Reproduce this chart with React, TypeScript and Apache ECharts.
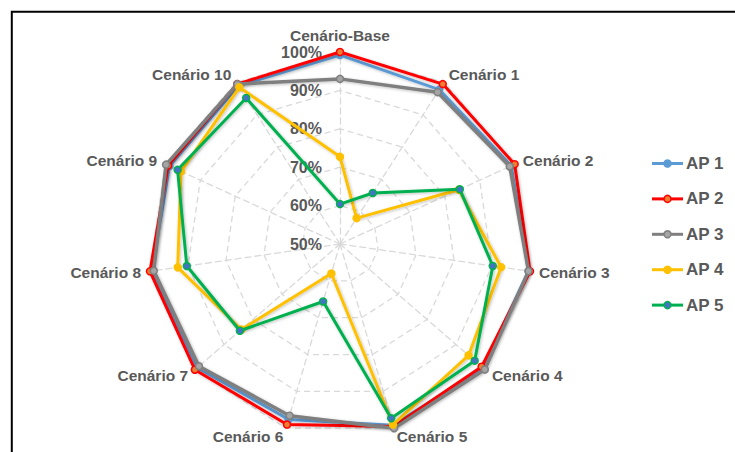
import React, { useEffect, useRef } from "react";
import * as echarts from "echarts";

const scenarios = [
  "Cenário-Base",
  "Cenário 1",
  "Cenário 2",
  "Cenário 3",
  "Cenário 4",
  "Cenário 5",
  "Cenário 6",
  "Cenário 7",
  "Cenário 8",
  "Cenário 9",
  "Cenário 10",
];

const seriesNames = ["AP 1", "AP 2", "AP 3", "AP 4", "AP 5"];

// values in %, order: Base, C1..C10
const ap1 = [99.2, 97.8, 99.0, 99.6, 99.2, 99.2, 97.6, 99.2, 99.5, 98.8, 99.0];
const ap2 = [100, 99.5, 100, 100, 98.8, 99.5, 99.0, 100, 100, 99.2, 99.5];
const ap3 = [93.0, 97.0, 98.6, 99.6, 99.9, 100, 96.6, 98.6, 99.0, 99.8, 99.5];
const ap4 = [72.7, 58.0, 84.0, 92.4, 94.3, 99.0, 58.0, 84.0, 92.7, 95.5, 98.5];
const ap5 = [60.4, 65.8, 84.3, 90.2, 96.4, 97.3, 65.6, 84.5, 90.3, 96.5, 95.2];

const tickValues = [50, 60, 70, 80, 90, 100];

const lineColors = ["#5B9BD5", "#FF0000", "#7F7F7F", "#FFC000", "#00B050"];
const markerColors = ["#5B9BD5", "#ED7D31", "#A5A5A5", "#FFC000", "#4472C4"];

const FONT = "'Liberation Sans', Arial, sans-serif";
const TEXT = "#595959";

export default function App() {
  const ref = useRef<HTMLDivElement>(null);

  useEffect(() => {
    if (!ref.current) return;
    const chart = echarts.init(ref.current, undefined, { renderer: "svg" });

    // ECharts lays indicators counter-clockwise; reorder to get clockwise
    const order = [0, ...Array.from({ length: scenarios.length - 1 }, (_, i) => scenarios.length - 1 - i)];
    const allData = [ap1, ap2, ap3, ap4, ap5];

    const gridLine = { color: "#D9D9D9", type: [6, 4] as any, width: 1.3 };

    const series = allData.map((arr, i) => ({
      type: "radar",
      name: seriesNames[i],
      symbol: "circle",
      symbolSize: 7,
      z: 2 + i,
      lineStyle: {
        color: lineColors[i],
        width: i === 2 ? 3.5 : 3,
        shadowColor: "rgba(0,0,0,0.25)",
        shadowBlur: 3,
        shadowOffsetX: 1,
        shadowOffsetY: 1,
      },
      itemStyle: {
        color: markerColors[i],
        borderColor: lineColors[i],
        borderWidth: 1.5,
      },
      data: [{ name: seriesNames[i], value: order.map((k) => arr[k]) }],
    }));

    const legendTop = 163.5;
    const legendStep = 35.4;
    const legendGraphics: any[] = [];
    seriesNames.forEach((name, i) => {
      const y = legendTop + i * legendStep;
      legendGraphics.push({
        type: "line",
        shape: { x1: 652, y1: y, x2: 683, y2: y },
        style: { stroke: lineColors[i], lineWidth: 3 },
      });
      legendGraphics.push({
        type: "circle",
        shape: { cx: 667.5, cy: y, r: 3.5 },
        style: { fill: markerColors[i], stroke: lineColors[i], lineWidth: 1.5 },
      });
      legendGraphics.push({
        type: "text",
        x: 686,
        y: y,
        style: {
          text: name,
          fill: TEXT,
          font: `bold 17px ${FONT}`,
          textVerticalAlign: "middle",
          verticalAlign: "middle",
        },
      });
    });

    chart.setOption({
      animation: false,
      backgroundColor: "#ffffff",
      radar: {
        center: [340, 244],
        radius: 192,
        startAngle: 90,
        splitNumber: 5,
        shape: "polygon",
        nameGap: 9,
        axisName: {
          color: TEXT,
          fontWeight: "bold",
          fontSize: 15.5,
          fontFamily: FONT,
        },
        indicator: order.map((k) => ({
          name: scenarios[k],
          min: tickValues[0],
          max: tickValues[tickValues.length - 1],
        })),
        splitLine: { lineStyle: gridLine },
        splitArea: { show: false },
        axisLine: { lineStyle: gridLine },
        axisTick: { show: false },
        axisLabel: { show: false },
      },
      polar: { center: [340, 244], radius: 192 },
      angleAxis: { show: false, startAngle: 90, min: 0, max: 360 },
      radiusAxis: {
        min: tickValues[0],
        max: tickValues[tickValues.length - 1],
        interval: tickValues[1] - tickValues[0],
        axisLine: { show: false },
        axisTick: { show: false },
        splitLine: { show: false },
        z: 1,
        axisLabel: {
          formatter: (v: number) => `${v}%`,
          margin: 18,
          color: TEXT,
          fontWeight: "bold",
          fontSize: 16,
          fontFamily: FONT,
        },
      },
      graphic: [
        {
          type: "rect",
          shape: { x: 11.8, y: 11.8, width: 800, height: 600 },
          style: { fill: "none", stroke: "#000000", lineWidth: 2 },
          z: 100,
        },
        ...legendGraphics,
      ],
      series,
    });

    return () => chart.dispose();
  }, []);

  return (
    <div
      ref={ref}
      style={{ position: "absolute", left: 0, top: 0, width: 735, height: 452 }}
    />
  );
}
